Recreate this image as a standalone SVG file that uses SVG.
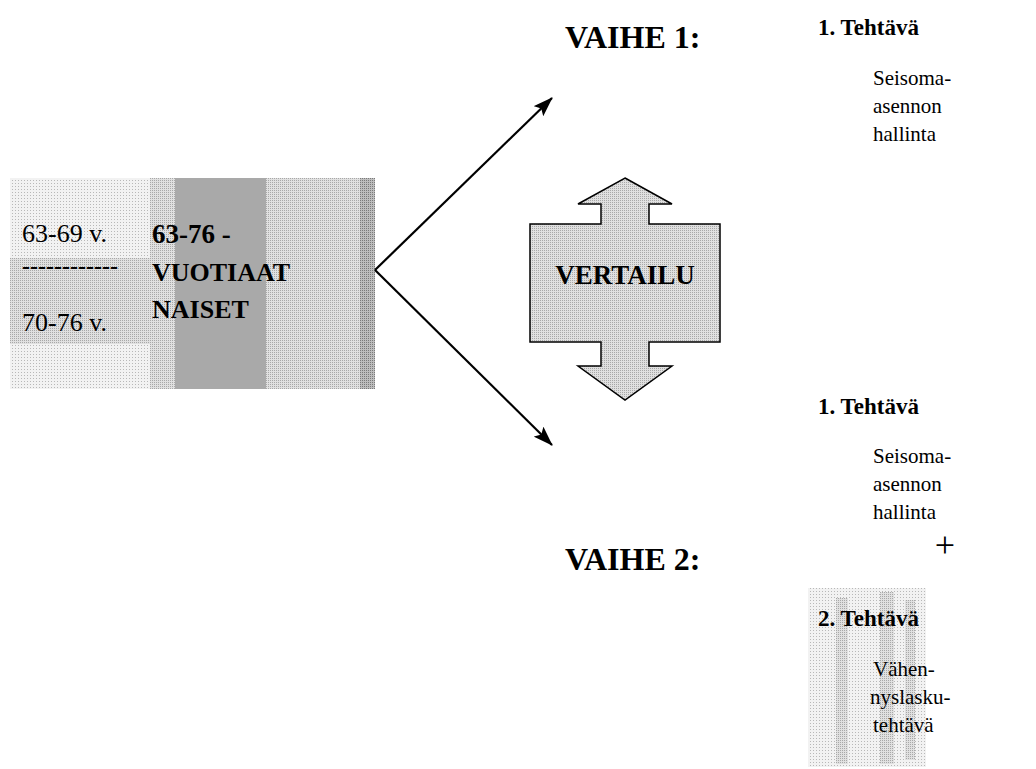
<svg xmlns="http://www.w3.org/2000/svg" width="1036" height="769" viewBox="0 0 1036 769">
<style>
.b{font-family:"Liberation Serif",serif;font-weight:bold;fill:#000}
.r{font-family:"Liberation Serif",serif;fill:#000}
.ln{stroke:#000;stroke-width:2.2;fill:none}
</style>
<defs>
<pattern id="dots" width="3" height="3" patternUnits="userSpaceOnUse"><rect width="3" height="3" fill="#f2f2f2"/><rect width="1" height="1" fill="#b8b8b8"/></pattern>
<pattern id="dots2" width="2" height="2" patternUnits="userSpaceOnUse"><rect width="2" height="2" fill="#e0e0e0"/><rect width="1" height="1" fill="#a8a8a8"/></pattern>
<pattern id="dots3" width="2" height="2" patternUnits="userSpaceOnUse"><rect width="2" height="2" fill="#bdbdbd"/><rect width="1" height="1" fill="#7a7a7a"/></pattern>
<marker id="ah" viewBox="0 0 20 14" refX="19" refY="7" markerWidth="20" markerHeight="14" orient="auto" markerUnits="userSpaceOnUse"><path d="M0,0 L20,7 L0,14 L4,7 Z" fill="#000"/></marker>
</defs>
<g id="group-box">
<rect x="10" y="178" width="140" height="211" fill="url(#dots)"/>
<rect x="10" y="258" width="140" height="86" fill="url(#dots2)"/>
<rect x="150" y="178" width="225" height="211" fill="url(#dots2)"/>
<rect x="175" y="178" width="91" height="211" fill="#a9a9a9"/>
<rect x="360" y="178" width="15" height="211" fill="url(#dots3)"/>
<text class="r" x="22" y="242" font-size="26">63-69 v.</text>
<text class="b" x="22" y="274" font-size="24">------------</text>
<text class="r" x="22" y="331" font-size="26">70-76 v.</text>
<text class="b" x="152" y="243" font-size="27">63-76 -</text>
<text class="b" x="152" y="281" font-size="26">VUOTIAAT</text>
<text class="b" x="152" y="318" font-size="26">NAISET</text>
</g>
<g id="connectors">
<line class="ln" x1="375" y1="270" x2="552" y2="98" marker-end="url(#ah)"/>
<line class="ln" x1="375" y1="270" x2="552" y2="445" marker-end="url(#ah)"/>
</g>
<g id="vertailu">
<path d="M625,178 L672,204 L649,204 L649,224 L720,224 L720,342 L649,342 L649,366 L672,366 L625,400 L578,366 L601,366 L601,342 L530,342 L530,224 L601,224 L601,204 L578,204 Z" fill="url(#dots2)" stroke="#000" stroke-width="1.5"/>
<text class="b" x="625" y="284" font-size="27" text-anchor="middle">VERTAILU</text>
</g>
<g id="vaihe1">
<text class="b" x="565" y="48" font-size="32">VAIHE 1:</text>
</g>
<g id="vaihe2">
<text class="b" x="565" y="570" font-size="32">VAIHE 2:</text>
</g>
<g id="task1a">
<text class="b" x="818" y="35" font-size="23">1. Tehtävä</text>
<text class="r" x="873" y="85" font-size="21">Seisoma-</text>
<text class="r" x="873" y="113" font-size="21">asennon</text>
<text class="r" x="873" y="141" font-size="21">hallinta</text>
</g>
<g id="task1b">
<text class="b" x="818" y="414" font-size="23">1. Tehtävä</text>
<text class="r" x="873" y="463" font-size="21">Seisoma-</text>
<text class="r" x="873" y="491" font-size="21">asennon</text>
<text class="r" x="873" y="519" font-size="21">hallinta</text>
</g>
<g id="plus">
<text class="r" x="945" y="557" font-size="36" text-anchor="middle">+</text>
</g>
<g id="task2">
<rect x="808" y="588" width="118" height="179" fill="url(#dots)"/>
<rect x="836" y="598" width="12" height="166" fill="url(#dots2)"/>
<rect x="880" y="592" width="14" height="172" fill="url(#dots2)"/>
<rect x="905" y="600" width="10" height="160" fill="url(#dots2)"/>
<text class="b" x="818" y="626" font-size="23">2. Tehtävä</text>
<text class="r" x="873" y="676" font-size="21">Vähen-</text>
<text class="r" x="870" y="704" font-size="21">nyslasku-</text>
<text class="r" x="873" y="732" font-size="21">tehtävä</text>
</g>
</svg>
